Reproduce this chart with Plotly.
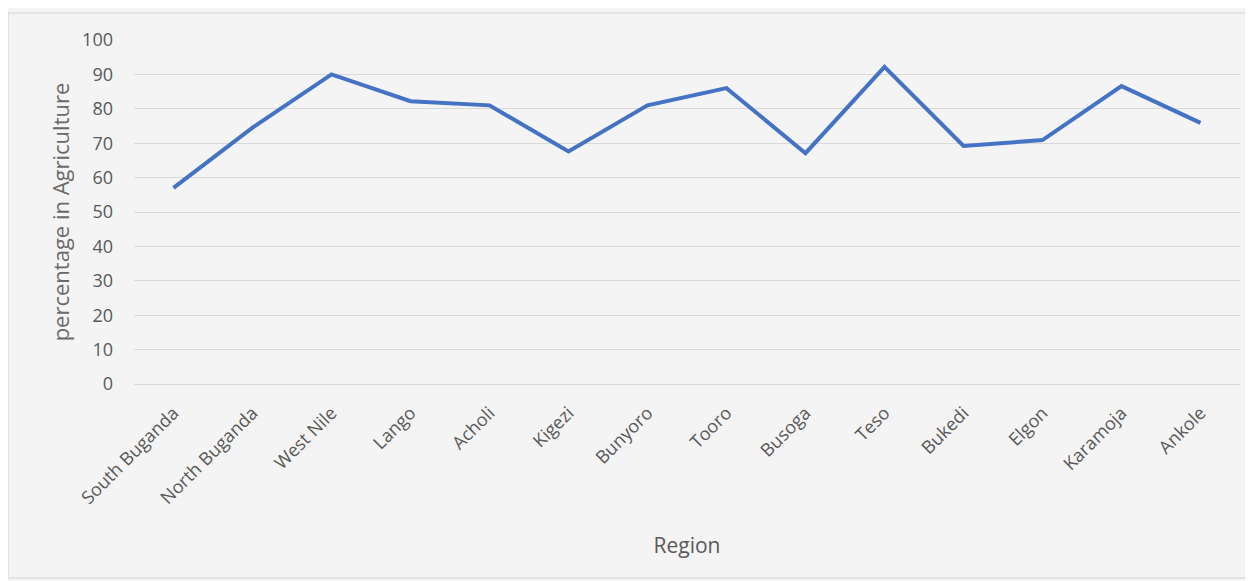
"""Line chart: share of population in agriculture by region."""

import plotly.graph_objects as go

regions = [
    "South Buganda", "North Buganda", "West Nile", "Lango", "Acholi", "Kigezi", "Bunyoro",
    "Tooro", "Busoga", "Teso", "Bukedi", "Elgon", "Karamoja", "Ankole",
]
pct_agriculture = [57.0, 74.5, 90.0, 82.2, 81.0, 67.6, 81.0, 86.0, 67.1, 92.2, 69.2, 70.9, 86.6, 75.9]
y_ticks = [0, 10, 20, 30, 40, 50, 60, 70, 80, 90, 100]

# page body has an 8px margin, so the figure is a bit smaller than the window
W, H = 1245, 573
L, R, T, B = 126, 13, 32, 197
pw, ph = W - L - R, H - T - B

fig = go.Figure(
    go.Scatter(
        x=regions,
        y=pct_agriculture,
        mode="lines",
        line=dict(color="#4472C4", width=4),
        hoverinfo="x+y",
    )
)

# outer chart border (Excel style)
fig.add_shape(
    type="rect",
    xref="paper", yref="paper",
    x0=(0 - L) / pw, x1=(1242 - L) / pw,
    y0=(H - B - 570) / ph, y1=(H - B - 5) / ph,
    line=dict(color="#d0d0d0", width=1),
    layer="below",
)

fig.update_layout(
    width=W,
    height=H,
    margin=dict(l=L, r=R, t=T, b=B),
    paper_bgcolor="#f4f4f4",
    plot_bgcolor="rgba(0,0,0,0)",
    showlegend=False,
    font=dict(family="Open Sans, sans-serif", size=18, color="#595959"),
    xaxis=dict(
        type="category",
        range=[-0.5, len(regions) - 0.5],
        tickangle=-45,
        showgrid=False,
        showline=False,
        zeroline=False,
        ticklabelstandoff=14,
        automargin=False,
        title=dict(text="Region", font=dict(size=21), standoff=30),
    ),
    yaxis=dict(
        range=[0, 100],
        tickvals=y_ticks,
        showgrid=True,
        gridcolor="#d9d9d9",
        gridwidth=1,
        zeroline=True,
        zerolinecolor="#d9d9d9",
        zerolinewidth=1,
        ticklabelstandoff=20,
        automargin=False,
        title=dict(text="percentage in Agriculture", font=dict(size=22, color="#6a6a6a"), standoff=6),
    ),
)

fig.write_html("out.html")
